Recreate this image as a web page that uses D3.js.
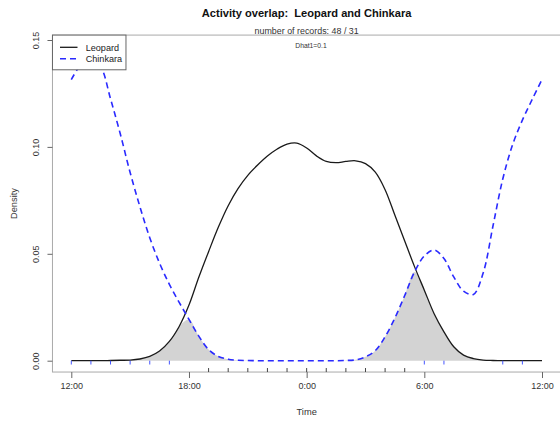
<!DOCTYPE html>
<html>
<head>
<meta charset="utf-8">
<script src="https://cdn.jsdelivr.net/npm/d3@7"></script>
<style>
  body { margin: 0; background: #fff; }
  svg { font-family: "Liberation Sans", Arial, sans-serif; }
</style>
</head>
<body>
<svg id="chart" width="560" height="421"></svg>
<script>
// time grid in hours (12 = noon, 24 = midnight, 36 = next noon)
var hours = [12, 12.5, 13, 13.5, 14, 14.5, 15, 15.5, 16, 16.5, 17, 17.5, 18, 18.5, 19, 19.5,
  20, 20.5, 21, 21.5, 22, 22.5, 23, 23.5, 24, 24.5, 25, 25.5, 26, 26.5, 27, 27.5,
  28, 28.5, 29, 29.5, 30, 30.5, 31, 31.5, 32, 32.5, 33, 33.5, 34, 34.5, 35, 35.5, 36];
var leopard = [0, 0, 0, 0, 0.0001, 0.0002, 0.0003, 0.0008, 0.002, 0.0045, 0.009, 0.016, 0.026, 0.039, 0.051, 0.0625,
  0.0725, 0.0805, 0.0867, 0.0915, 0.0957, 0.099, 0.1013, 0.1018, 0.0995, 0.0958, 0.0932, 0.0926, 0.0932, 0.0935, 0.0922, 0.0882,
  0.080, 0.068, 0.056, 0.044, 0.033, 0.022, 0.0135, 0.0065, 0.0026, 0.001, 0.0003, 0.0001, 0, 0, 0, 0, 0];
var chinkara = [0.1315, 0.1385, 0.1415, 0.1375, 0.1225, 0.106, 0.088, 0.072, 0.0575, 0.0456, 0.0357, 0.0273, 0.0193, 0.0115, 0.0052, 0.002,
  0.0007, 0.0002, 0.0001, 0, 0, 0, 0, 0, 0, 0, 0, 0, 0.0001, 0.0004, 0.0018, 0.0047,
  0.0112, 0.020, 0.0305, 0.0415, 0.049, 0.0518, 0.0478, 0.0392, 0.0325, 0.031, 0.041, 0.063, 0.085, 0.101, 0.1125, 0.1222, 0.1315];
// rug marks (record times, hourly)
var leopardRug = [19, 20, 21, 22, 23, 24, 25, 26, 27, 28, 29];
var chinkaraRug = [12, 13, 14, 15, 16, 17, 30, 31, 34, 35];
var xTicks = [12, 18, 24, 30, 36];
var yTicks = [0, 0.05, 0.10, 0.15];
var seriesNames = ['Leopard', 'Chinkara'];

var svg = d3.select('#chart');
var x = d3.scaleLinear().domain([12, 36]).range([71.3, 542]);
var y = d3.scaleLinear().domain([0, 0.15]).range([360.7, 40]);

var boxL = x(11.04), boxR = x(36.96), boxT = y(0.1523), boxB = y(-0.0053);
var smooth = d3.curveCatmullRom.alpha(0.5);

var rows = hours.map(function (h, i) {
  return { h: h, a: leopard[i], b: chinkara[i] };
});

// overlap shading
var overlap = d3.area()
  .x(function (d) { return x(d.h); })
  .y0(y(0))
  .y1(function (d) { return y(Math.min(d.a, d.b)); })
  .curve(smooth);
svg.append('path')
  .datum(rows)
  .attr('d', overlap)
  .attr('fill', '#d3d3d3');

// box
svg.append('rect')
  .attr('x', boxL).attr('y', boxT)
  .attr('width', boxR - boxL).attr('height', boxB - boxT)
  .attr('fill', 'none').attr('stroke', '#aaa').attr('stroke-width', 1);

// curves
var line = function (key) {
  return d3.line()
    .x(function (d) { return x(d.h); })
    .y(function (d) { return y(Math.max(0, d[key])); })
    .curve(smooth);
};
svg.append('path').datum(rows).attr('d', line('a'))
  .attr('fill', 'none').attr('stroke', '#1a1a1a').attr('stroke-width', 1.3);
svg.append('path').datum(rows).attr('d', line('b'))
  .attr('fill', 'none').attr('stroke', '#2a2aff').attr('stroke-width', 1.6)
  .attr('stroke-dasharray', '6,4');

// rugs
svg.selectAll('.rugA').data(leopardRug).enter().append('line')
  .attr('x1', function (d) { return x(d); }).attr('x2', function (d) { return x(d); })
  .attr('y1', boxB - 4).attr('y2', boxB)
  .attr('stroke', '#444').attr('stroke-width', 1);
svg.selectAll('.rugB').data(chinkaraRug).enter().append('line')
  .attr('x1', function (d) { return x(d); }).attr('x2', function (d) { return x(d); })
  .attr('y1', y(0)).attr('y2', y(0) + 3.8)
  .attr('stroke', '#4455ff').attr('stroke-width', 1);

// axes
var xAxis = d3.axisBottom(x).tickValues(xTicks).tickSize(6).tickPadding(5)
  .tickFormat(function (h) { return (h % 24) + ':00'; });
var gx = svg.append('g').attr('transform', 'translate(0,' + boxB + ')').call(xAxis);
gx.select('.domain').remove();
gx.selectAll('line').attr('stroke', '#666');
gx.selectAll('text').attr('font-size', 9).attr('fill', '#333')
  .attr('font-family', '"Liberation Sans", Arial, sans-serif');

var yAxis = d3.axisLeft(y).tickValues(yTicks).tickSize(5).tickFormat(d3.format('.2f'));
var gy = svg.append('g').attr('transform', 'translate(' + boxL + ',0)').call(yAxis);
gy.select('.domain').remove();
gy.selectAll('line').attr('stroke', '#666');
gy.selectAll('text')
  .attr('font-size', 9).attr('fill', '#333')
  .attr('font-family', '"Liberation Sans", Arial, sans-serif')
  .attr('x', 0).attr('dy', 0)
  .attr('text-anchor', 'middle')
  .attr('transform', 'translate(-13,0) rotate(-90)');

// titles
var mid = (boxL + boxR) / 2;
svg.append('text').attr('x', mid).attr('y', 17).attr('text-anchor', 'middle')
  .attr('font-size', 11.1).attr('font-weight', 'bold').attr('fill', '#111')
  .style('white-space', 'pre')
  .text('Activity overlap:  Leopard and Chinkara');
svg.append('text').attr('x', mid).attr('y', 33.5).attr('text-anchor', 'middle')
  .attr('font-size', 8.9).attr('fill', '#333')
  .text('number of records: 48 / 31');
svg.append('text').attr('x', 311).attr('y', 47.5).attr('text-anchor', 'middle')
  .attr('font-size', 6.8).attr('fill', '#333')
  .text('Dhat1=0.1');
svg.append('text').attr('x', mid).attr('y', 415).attr('text-anchor', 'middle')
  .attr('font-size', 9.3).attr('fill', '#333').text('Time');
svg.append('text').attr('transform', 'translate(16.5,' + ((boxT + boxB) / 2) + ') rotate(-90)')
  .attr('text-anchor', 'middle').attr('font-size', 9.3).attr('fill', '#333').text('Density');

// legend
var lg = svg.append('g');
lg.append('rect').attr('x', boxL).attr('y', boxT).attr('width', 73.5).attr('height', 34.7)
  .attr('fill', '#fff').attr('stroke', '#666').attr('stroke-width', 1);
var lgStyles = [{ c: '#1a1a1a', w: 1.3, dash: null }, { c: '#2a2aff', w: 1.6, dash: '6,4' }];
seriesNames.forEach(function (name, i) {
  var ly = 47.3 + i * 11.4;
  lg.append('line').attr('x1', 60).attr('x2', 77.5).attr('y1', ly).attr('y2', ly)
    .attr('stroke', lgStyles[i].c).attr('stroke-width', lgStyles[i].w)
    .attr('stroke-dasharray', lgStyles[i].dash);
  lg.append('text').attr('x', 85.7).attr('y', ly + 3.2).attr('font-size', 9.1)
    .attr('fill', '#222').text(name);
});
</script>
</body>
</html>
